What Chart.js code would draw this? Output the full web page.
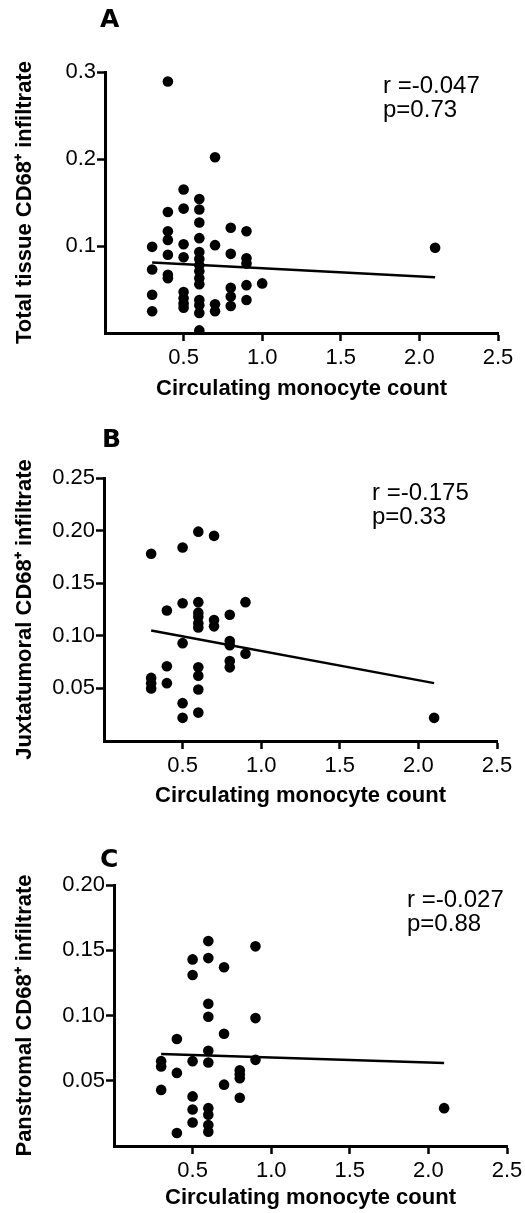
<!DOCTYPE html>
<html>
<head>
<meta charset="utf-8">
<script src="https://cdn.jsdelivr.net/npm/chart.js@4"></script>
<style>
  body { margin: 0; background: #fff; }
  .panel { position: absolute; left: 0; }
</style>
</head>
<body>
<div class="panel" style="top:0px"><canvas id="chartA" width="525" height="410"></canvas></div>
<div class="panel" style="top:400px"><canvas id="chartB" width="525" height="410"></canvas></div>
<div class="panel" style="top:800px"><canvas id="chartC" width="525" height="413"></canvas></div>
<script>
// monocyte counts (x) and CD68+ infiltrate (y), one pair of arrays per panel
var monoA = [0.3,0.3,0.3,0.3,
  0.4,0.4,0.4,0.4,0.4,0.4,0.4,
  0.5,0.5,0.5,0.5,0.5,0.5,0.5,0.5,
  0.6,0.6,0.6,0.6,0.6,0.6,0.6,0.6,0.6,0.6,0.6,0.6,0.6,0.6,
  0.7,0.7,0.7,0.7,
  0.8,0.8,0.8,0.8,0.8,
  0.9,0.9,0.9,0.9,0.9,
  1.0, 2.1];
var totalCD68 = [0.099,0.073,0.044,0.025,
  0.289,0.139,0.117,0.107,0.090,0.067,0.063,
  0.165,0.143,0.102,0.087,0.047,0.040,0.034,0.029,
  0.154,0.142,0.127,0.109,0.093,0.085,0.078,0.071,0.063,0.056,0.038,0.032,0.023,0.003,
  0.202,0.101,0.033,0.025,
  0.121,0.091,0.052,0.042,0.031,
  0.117,0.086,0.080,0.055,0.038,
  0.057, 0.098];

var monoB = [0.3,0.3,0.3,0.3,
  0.4,0.4,0.4,
  0.5,0.5,0.5,0.5,0.5,
  0.6,0.6,0.6,0.6,0.6,0.6,0.6,0.6,0.6,0.6,
  0.7,0.7,0.7,
  0.8,0.8,0.8,0.8,0.8,
  0.9,0.9,
  2.1];
var juxtaCD68 = [0.178,0.060,0.055,0.050,
  0.124,0.071,0.055,
  0.184,0.131,0.093,0.036,0.022,
  0.199,0.132,0.122,0.118,0.112,0.108,0.070,0.062,0.049,0.027,
  0.195,0.115,0.109,
  0.120,0.095,0.091,0.076,0.070,
  0.132,0.083,
  0.022];

var monoC = [0.3,0.3,0.3,
  0.4,0.4,0.4,
  0.5,0.5,0.5,0.5,0.5,0.5,
  0.6,0.6,0.6,0.6,0.6,0.6,0.6,0.6,0.6,0.6,
  0.7,0.7,0.7,
  0.8,0.8,0.8,0.8,
  0.9,0.9,0.9,
  2.1];
var panCD68 = [0.065,0.061,0.043,
  0.082,0.056,0.010,
  0.143,0.131,0.065,0.038,0.028,0.018,
  0.157,0.144,0.109,0.099,0.073,0.064,0.029,0.024,0.016,0.011,
  0.137,0.086,0.047,
  0.058,0.055,0.052,0.037,
  0.153,0.098,0.066,
  0.029];

// fitted lines, read at the ends (x = 0.3 and 2.1)
var fitX = [0.3, 2.1];
var fitA = [0.081, 0.064];
var fitB = [0.105, 0.055];
var fitC = [0.0705, 0.0636];

var xTicks = [0.5, 1.0, 1.5, 2.0, 2.5];
var yTicksA = [0.1, 0.2, 0.3];
var yTicksB = [0.05, 0.10, 0.15, 0.20, 0.25];
var yTicksC = [0.05, 0.10, 0.15, 0.20];

var statsA = ["r =-0.047", "p=0.73"];
var statsB = ["r =-0.175", "p=0.33"];
var statsC = ["r =-0.027", "p=0.88"];

var FONT = "'Liberation Sans', Arial, sans-serif";

function pares(xs, ys) {
  var out = [];
  for (var i = 0; i < xs.length; i++) out.push({x: xs[i], y: ys[i]});
  return out;
}

// letter + r/p text drawn straight onto the canvas
var textos = {
  id: 'textos',
  afterDraw: function(chart, args, o) {
    var ctx = chart.ctx;
    ctx.save();
    ctx.fillStyle = '#000';
    ctx.textAlign = 'left';
    ctx.textBaseline = 'alphabetic';
    ctx.font = "bold 25px 'DejaVu Sans', sans-serif";
    ctx.fillText(o.letra, o.letraX, o.letraY);
    ctx.font = "24px " + FONT;
    ctx.fillText(o.stats[0], o.statX, o.statY);
    ctx.fillText(o.stats[1], o.statX, o.statY + 24);
    ctx.restore();
  }
};

function panel(id, xs, ys, fit, yMax, yTicks, dec, titulo, lay, txt) {
  var ctx = document.getElementById(id).getContext('2d');
  new Chart(ctx, {
    type: 'scatter',
    plugins: [textos],
    data: {
      datasets: [
        {data: pares(xs, ys), backgroundColor: '#000', borderColor: '#000', pointRadius: 5.3, pointBorderWidth: 0},
        {type: 'line', data: pares(fitX, fit), borderColor: '#000', borderWidth: 2.5, pointRadius: 0, fill: false}
      ]
    },
    options: {
      responsive: false,
      animation: false,
      events: [],
      layout: {padding: {top: lay.top, right: lay.right, left: 0, bottom: 0}},
      plugins: {legend: {display: false}, tooltip: {enabled: false}, textos: txt},
      scales: {
        x: {
          type: 'linear', min: 0, max: 2.5,
          afterBuildTicks: function(s) { s.ticks = xTicks.map(function(v) { return {value: v}; }); },
          afterFit: function(s) { s.height = lay.xh; s.paddingLeft = 0; s.paddingRight = 0; },
          border: {display: true, color: '#000', width: 3},
          grid: {drawOnChartArea: false, drawTicks: true, tickLength: 8, tickWidth: 2.5, tickColor: '#000', color: '#000'},
          ticks: {color: '#000', font: {family: FONT, size: 22}, padding: 4, maxRotation: 0,
                  callback: function(v) { return Number(v).toFixed(1); }},
          title: {display: true, text: 'Circulating monocyte count', color: '#000',
                  font: {family: FONT, size: 22, weight: 'bold'}, padding: {top: 0, bottom: lay.tpad}}
        },
        y: {
          min: 0, max: yMax,
          afterBuildTicks: function(s) { s.ticks = yTicks.map(function(v) { return {value: v}; }); },
          afterFit: function(s) { s.width = lay.left; s.paddingTop = 0; s.paddingBottom = 0; },
          border: {display: true, color: '#000', width: 3},
          grid: {drawOnChartArea: false, drawTicks: true, tickLength: 8, tickWidth: 2.5, tickColor: '#000', color: '#000'},
          ticks: {color: '#000', font: {family: FONT, size: 22}, padding: 1,
                  callback: function(v) { return Number(v).toFixed(dec); }},
          title: {display: true, text: titulo, color: '#000',
                  font: {family: FONT, size: 22, weight: 'bold'}, padding: {top: 12, bottom: 0}}
        }
      }
    }
  });
}

panel('chartA', monoA, totalCD68, fitA, 0.3, yTicksA, 1, 'Total tissue CD68\u207A infiltrate',
  {top: 72, right: 27, left: 105, xh: 77, tpad: 8},
  {letra: 'A', letraX: 100, letraY: 27, stats: statsA, statX: 383, statY: 93});
panel('chartB', monoB, juxtaCD68, fitB, 0.25, yTicksB, 2, 'Juxtatumoral CD68\u207A infiltrate',
  {top: 78, right: 28, left: 104, xh: 69, tpad: 1},
  {letra: 'B', letraX: 102, letraY: 47, stats: statsB, statX: 372, statY: 100});
panel('chartC', monoC, panCD68, fitC, 0.20, yTicksC, 2, 'Panstromal CD68\u207A infiltrate',
  {top: 85, right: 18, left: 114, xh: 67, tpad: 2},
  {letra: 'C', letraX: 100, letraY: 67, stats: statsC, statX: 407, statY: 107});
</script>
</body>
</html>
